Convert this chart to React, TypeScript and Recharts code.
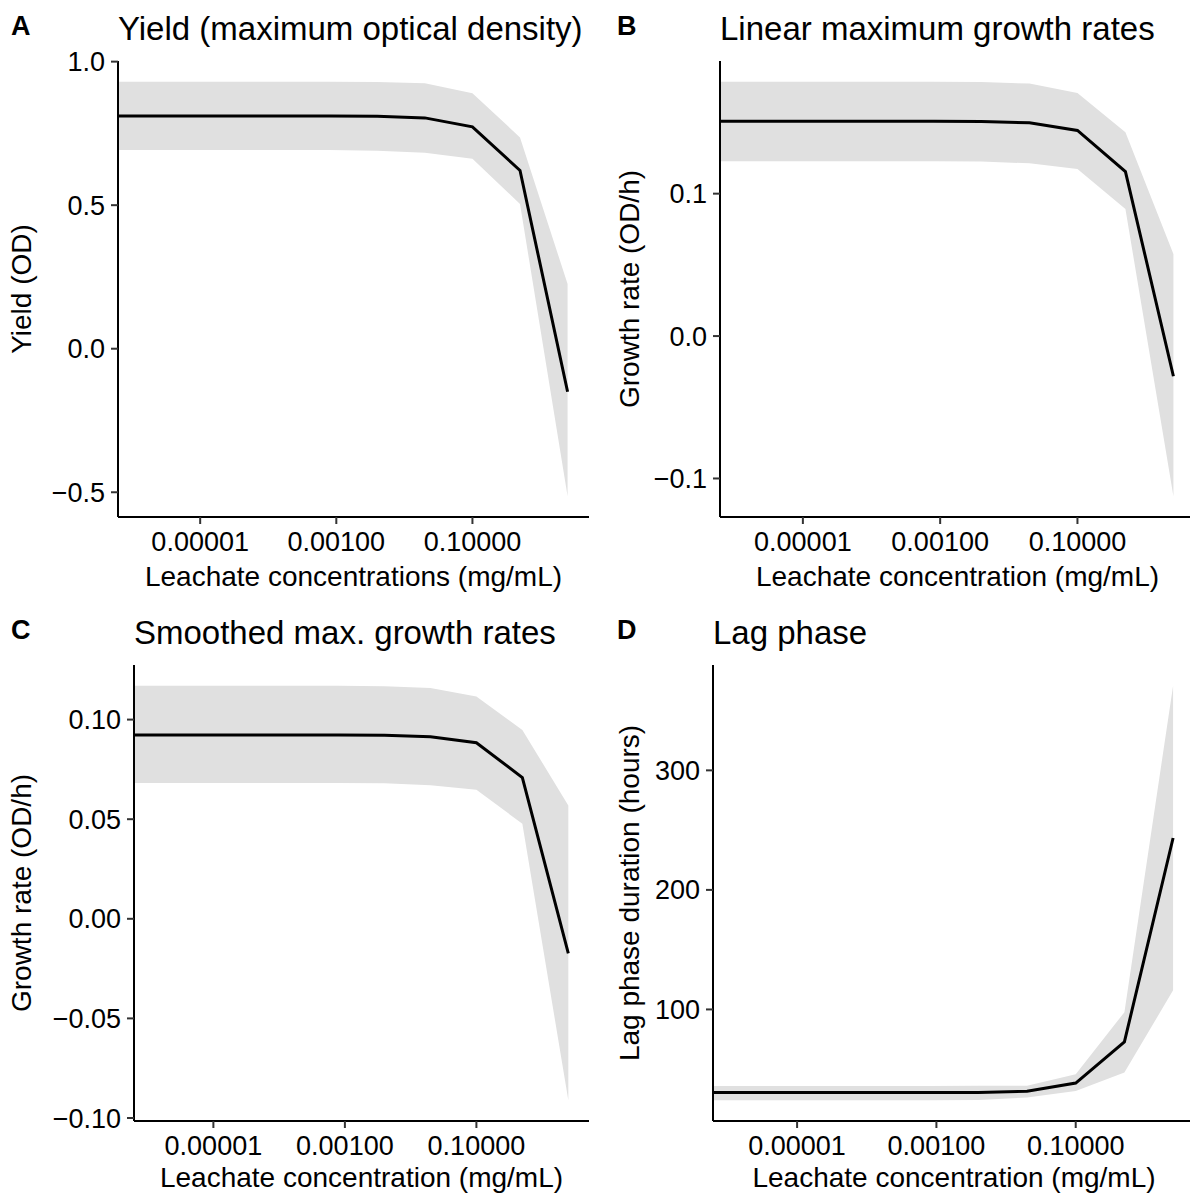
import React from 'react';
import { ComposedChart, Area, Line, XAxis, YAxis } from 'recharts';

// Leachate dilution series (mg/mL, 5-fold steps); 0 is the untreated control
const concentrations = [0, 1.28e-6, 6.4e-6, 3.2e-5, 1.6e-4, 8e-4, 4e-3, 2e-2, 0.1, 0.5, 2.5];
const xTicks = [1e-5, 1e-3, 1e-1];

// A: yield (maximum OD)
const yieldMean = [0.811, 0.811, 0.811, 0.811, 0.811, 0.811, 0.81, 0.804, 0.773, 0.621, -0.15];
const yieldLower = [0.692, 0.692, 0.692, 0.692, 0.692, 0.692, 0.69, 0.683, 0.662, 0.504, -0.514];
const yieldUpper = [0.93, 0.93, 0.93, 0.93, 0.93, 0.93, 0.929, 0.925, 0.89, 0.736, 0.225];
const yieldTicks = [-0.5, 0, 0.5, 1];

// B: linear max growth rate
const linearMean = [0.1509, 0.1509, 0.1509, 0.1509, 0.1509, 0.1509, 0.1507, 0.1498, 0.1444, 0.1155, -0.0282];
const linearLower = [0.1227, 0.1227, 0.1227, 0.1227, 0.1227, 0.1227, 0.1225, 0.1213, 0.1174, 0.0892, -0.1125];
const linearUpper = [0.1786, 0.1786, 0.1786, 0.1786, 0.1786, 0.1786, 0.1784, 0.1773, 0.1706, 0.1432, 0.0577];
const linearTicks = [-0.1, 0, 0.1];

// C: smoothed max growth rate
const smoothMean = [0.0923, 0.0923, 0.0923, 0.0923, 0.0923, 0.0923, 0.0922, 0.0914, 0.0884, 0.0709, -0.0173];
const smoothLower = [0.0682, 0.0682, 0.0682, 0.0682, 0.0682, 0.0682, 0.0681, 0.067, 0.0648, 0.0477, -0.0911];
const smoothUpper = [0.117, 0.117, 0.117, 0.117, 0.117, 0.117, 0.1168, 0.1159, 0.1116, 0.0948, 0.0569];
const smoothTicks = [-0.1, -0.05, 0, 0.05, 0.1];

// D: lag phase (hours)
const lagMean = [30.5, 30.5, 30.5, 30.5, 30.5, 30.5, 30.6, 31.5, 38.4, 72.8, 243.4];
const lagLower = [24, 24, 24, 24, 24, 24, 24.2, 26.3, 31.8, 47.2, 116];
const lagUpper = [36, 36, 36, 36, 36, 36, 36.1, 36.2, 45.8, 97.7, 370.8];
const lagTicks = [100, 200, 300];

const FONT = '"Liberation Sans", Arial, Helvetica, sans-serif';
const PLOT_TOP = 61;
const PLOT_H = 456;

// log axis range, padded 5% like ggplot
const positive = concentrations.filter((c) => c > 0);
const logLo = Math.log10(Math.min(...positive));
const logHi = Math.log10(Math.max(...positive));
const logPad = 0.05 * (logHi - logLo);
const X_DOMAIN: [number, number] = [10 ** (logLo - logPad), 10 ** (logHi + logPad)];

const buildRows = (mean: number[], lower: number[], upper: number[]) =>
  concentrations.map((c, i) => ({
    // control has no place on a log axis, so it is pinned to the left edge
    conc: c > 0 ? c : X_DOMAIN[0],
    mean: mean[i],
    band: [lower[i], upper[i]],
  }));

const expand = (lower: number[], upper: number[]): [number, number] => {
  const lo = Math.min(...lower);
  const hi = Math.max(...upper);
  const pad = 0.05 * (hi - lo);
  return [lo - pad, hi + pad];
};

const withMinus = (s: string) => s.replace('-', '\u2212');

interface PanelProps {
  left: number;
  top: number;
  width: number;
  height: number;
  right: number;
  axisWidth: number;
  tag: string;
  tagX: number;
  title: string;
  yTitle: string;
  yTitleX: number;
  xTitle: string;
  xTitleGap: number;
  mean: number[];
  lower: number[];
  upper: number[];
  yTicks: number[];
  digits: number;
}

const Panel: React.FC<PanelProps> = (p) => {
  const rows = buildRows(p.mean, p.lower, p.upper);
  const yDomain = expand(p.lower, p.upper);
  const xCenter = (p.axisWidth + p.width - p.right) / 2;
  const yCenter = PLOT_TOP + PLOT_H / 2;
  const tickStyle = { fill: '#000', fontSize: 27, fontFamily: FONT };

  return (
    <div style={{ position: 'absolute', left: p.left, top: p.top, width: p.width, height: p.height }}>
      <ComposedChart
        width={p.width}
        height={p.height}
        data={rows}
        margin={{ top: PLOT_TOP, right: p.right, bottom: 0, left: 0 }}
      >
        <XAxis
          dataKey="conc"
          type="number"
          scale="log"
          domain={X_DOMAIN}
          allowDataOverflow
          ticks={xTicks}
          tickFormatter={(v: number) => v.toFixed(5)}
          height={p.height - PLOT_TOP - PLOT_H}
          tickSize={7}
          tickMargin={8}
          axisLine={{ stroke: '#000', strokeWidth: 2 }}
          tickLine={{ stroke: '#333', strokeWidth: 2 }}
          tick={tickStyle}
        />
        <YAxis
          type="number"
          domain={yDomain}
          allowDataOverflow
          ticks={p.yTicks}
          tickFormatter={(v: number) => withMinus(v.toFixed(p.digits))}
          width={p.axisWidth}
          tickSize={7}
          tickMargin={6}
          axisLine={{ stroke: '#000', strokeWidth: 2 }}
          tickLine={{ stroke: '#333', strokeWidth: 2 }}
          tick={tickStyle}
        />
        <Area
          dataKey="band"
          type="linear"
          stroke="none"
          fill="#e0e0e0"
          fillOpacity={1}
          isAnimationActive={false}
        />
        <Line
          dataKey="mean"
          type="linear"
          stroke="#000"
          strokeWidth={3}
          dot={false}
          isAnimationActive={false}
        />
      </ComposedChart>
      <svg
        width={p.width}
        height={p.height}
        style={{ position: 'absolute', left: 0, top: 0, pointerEvents: 'none' }}
        fontFamily={FONT}
        fill="#000"
      >
        <text x={p.tagX} y={35} fontSize={27} fontWeight="bold">{p.tag}</text>
        <text x={p.axisWidth} y={40} fontSize={33}>{p.title}</text>
        <text x={xCenter} y={PLOT_TOP + PLOT_H + p.xTitleGap} fontSize={28} textAnchor="middle">
          {p.xTitle}
        </text>
        <text
          transform={`translate(${p.yTitleX},${yCenter}) rotate(-90)`}
          fontSize={28}
          textAnchor="middle"
        >
          {p.yTitle}
        </text>
      </svg>
    </div>
  );
};

const App: React.FC = () => (
  <div
    style={{
      position: 'absolute', left: 0, top: 0, width: 1190, height: 1194,
      background: '#fff', overflow: 'hidden',
    }}
  >
    <Panel
      left={0} top={0} width={595} height={597} right={6} axisWidth={118}
      tag="A" tagX={11} title="Yield (maximum optical density)"
      yTitle="Yield (OD)" yTitleX={31}
      xTitle="Leachate concentrations (mg/mL)" xTitleGap={69}
      mean={yieldMean} lower={yieldLower} upper={yieldUpper} yTicks={yieldTicks} digits={1}
    />
    <Panel
      left={595} top={0} width={600} height={597} right={0} axisWidth={125}
      tag="B" tagX={22} title="Linear maximum growth rates"
      yTitle="Growth rate (OD/h)" yTitleX={44}
      xTitle="Leachate concentration (mg/mL)" xTitleGap={69}
      mean={linearMean} lower={linearLower} upper={linearUpper} yTicks={linearTicks} digits={1}
    />
    <Panel
      left={0} top={604} width={595} height={590} right={6} axisWidth={134}
      tag="C" tagX={11} title="Smoothed max. growth rates"
      yTitle="Growth rate (OD/h)" yTitleX={31}
      xTitle="Leachate concentration (mg/mL)" xTitleGap={66}
      mean={smoothMean} lower={smoothLower} upper={smoothUpper} yTicks={smoothTicks} digits={2}
    />
    <Panel
      left={595} top={604} width={600} height={590} right={0} axisWidth={118}
      tag="D" tagX={22} title="Lag phase"
      yTitle="Lag phase duration (hours)" yTitleX={44}
      xTitle="Leachate concentration (mg/mL)" xTitleGap={66}
      mean={lagMean} lower={lagLower} upper={lagUpper} yTicks={lagTicks} digits={0}
    />
  </div>
);

export default App;
